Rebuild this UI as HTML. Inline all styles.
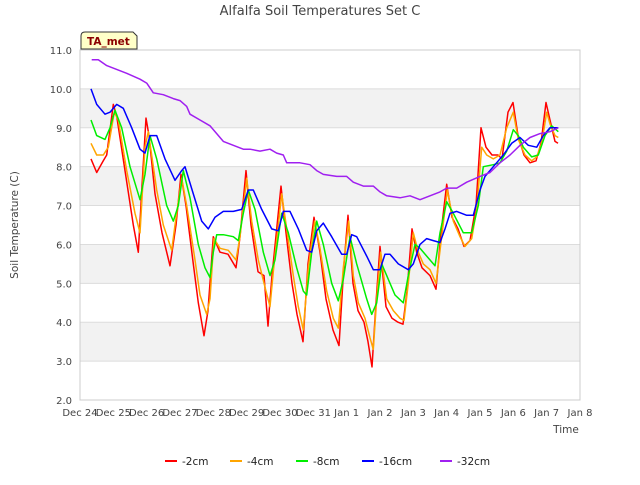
<!DOCTYPE html>
<html><head><meta charset="utf-8"><style>
body{margin:0;background:#fff;font-family:"Liberation Sans",sans-serif}
svg text{font-family:"DejaVu Sans","Liberation Sans",sans-serif}
</style></head><body>
<svg id="c" width="640" height="480" xmlns="http://www.w3.org/2000/svg">
<rect width="640" height="480" fill="#fff"/>
<g id="bands"></g><g id="grid"></g><g id="axes"></g><g id="series"></g>
<text x="320" y="15" text-anchor="middle" font-size="13" fill="#444">Alfalfa Soil Temperatures Set C</text>
<text x="18" y="225" text-anchor="middle" font-size="10.5" fill="#444" transform="rotate(-90 18 225)">Soil Temperature (C)</text>
<text x="566" y="433" text-anchor="middle" font-size="10.5" fill="#444">Time</text>
<g>
<path d="M81 49 L81 36 Q81 32 85 32 L133 32 L137 36 L137 49 Z" fill="#ffffc8" stroke="#333" stroke-width="1"/>
<text x="87" y="45" font-size="10.5" font-weight="bold" fill="#8b0000">TA_met</text></g>
<g id="legend"></g>
</svg>
<script>
const yTicks=[2,3,4,5,6,7,8,9,10,11];
const xTickLabels=["Dec 24","Dec 25","Dec 26","Dec 27","Dec 28","Dec 29","Dec 30","Dec 31","Jan 1","Jan 2","Jan 3","Jan 4","Jan 5","Jan 6","Jan 7","Jan 8"];
const seriesNames=["-2cm","-4cm","-8cm","-16cm","-32cm"];
const seriesColors=["#ff0000","#ffa500","#00ee00","#0000ff","#a020f0"];
const s2=[[0.33,8.2],[0.5,7.85],[0.7,8.15],[0.8,8.3],[1.0,9.6],[1.1,9.3],[1.35,7.9],[1.6,6.5],[1.75,5.8],[1.86,7.5],[1.98,9.25],[2.07,8.8],[2.25,7.3],[2.46,6.3],[2.7,5.45],[2.88,6.5],[3.03,7.8],[3.18,7.0],[3.4,5.5],[3.55,4.5],[3.72,3.65],[3.84,4.3],[4.0,6.2],[4.2,5.8],[4.44,5.75],[4.68,5.4],[4.8,6.2],[4.98,7.9],[5.13,6.5],[5.34,5.3],[5.52,5.2],[5.64,3.9],[5.76,5.2],[6.03,7.5],[6.18,6.3],[6.36,5.0],[6.51,4.2],[6.69,3.5],[6.84,5.5],[7.02,6.7],[7.2,5.8],[7.38,4.6],[7.59,3.8],[7.77,3.4],[7.92,5.5],[8.04,6.75],[8.19,5.0],[8.34,4.3],[8.52,4.0],[8.64,3.5],[8.76,2.85],[8.88,4.5],[9.0,5.95],[9.18,4.4],[9.36,4.1],[9.54,4.0],[9.69,3.95],[9.81,4.8],[9.96,6.4],[10.1,5.8],[10.26,5.4],[10.5,5.2],[10.68,4.85],[10.83,6.3],[11.0,7.55],[11.16,6.7],[11.34,6.4],[11.52,5.95],[11.7,6.1],[11.88,7.0],[12.03,9.0],[12.18,8.5],[12.36,8.3],[12.54,8.3],[12.66,8.2],[12.84,9.4],[12.99,9.65],[13.14,8.8],[13.32,8.3],[13.5,8.1],[13.68,8.15],[13.83,8.6],[13.98,9.65],[14.1,9.2],[14.25,8.65],[14.34,8.6]];
const s4=[[0.33,8.6],[0.5,8.3],[0.7,8.3],[0.85,8.5],[1.03,9.4],[1.15,9.2],[1.4,7.9],[1.65,6.8],[1.8,6.3],[1.95,8.5],[2.05,8.9],[2.3,7.4],[2.5,6.5],[2.75,5.85],[2.85,6.5],[3.05,7.7],[3.2,7.0],[3.45,5.6],[3.6,4.7],[3.8,4.2],[3.9,4.6],[4.02,6.15],[4.2,5.9],[4.45,5.85],[4.68,5.6],[4.8,6.2],[5.0,7.7],[5.15,6.6],[5.35,5.6],[5.55,4.9],[5.7,4.4],[5.8,5.3],[6.05,7.3],[6.2,6.4],[6.4,5.2],[6.55,4.4],[6.7,3.8],[6.85,5.4],[7.04,6.6],[7.2,5.9],[7.4,4.8],[7.6,4.1],[7.75,3.85],[7.9,5.4],[8.06,6.6],[8.2,5.2],[8.35,4.5],[8.55,4.1],[8.7,3.6],[8.8,3.3],[8.9,4.6],[9.02,5.8],[9.2,4.6],[9.4,4.3],[9.6,4.1],[9.72,4.05],[9.85,5.0],[10.0,6.3],[10.15,5.8],[10.3,5.5],[10.5,5.35],[10.68,5.0],[10.85,6.2],[11.02,7.4],[11.2,6.6],[11.4,6.2],[11.55,5.95],[11.75,6.15],[11.9,6.9],[12.05,8.5],[12.2,8.3],[12.4,8.2],[12.6,8.3],[12.8,9.0],[13.0,9.4],[13.15,8.7],[13.35,8.3],[13.55,8.15],[13.7,8.25],[13.85,8.6],[14.0,9.4],[14.1,9.1],[14.25,8.8],[14.35,8.75]];
const s8=[[0.33,9.2],[0.5,8.8],[0.75,8.7],[0.9,9.0],[1.05,9.45],[1.25,9.0],[1.5,8.0],[1.8,7.15],[1.95,7.8],[2.1,8.8],[2.3,8.2],[2.6,7.0],[2.8,6.6],[2.95,7.0],[3.1,7.9],[3.3,7.2],[3.55,6.0],[3.75,5.4],[3.9,5.15],[4.0,5.8],[4.1,6.25],[4.3,6.25],[4.6,6.2],[4.75,6.1],[4.9,6.8],[5.05,7.4],[5.25,6.9],[5.5,5.8],[5.7,5.2],[5.85,5.6],[6.05,6.8],[6.25,6.3],[6.5,5.4],[6.7,4.8],[6.8,4.7],[6.95,5.8],[7.1,6.6],[7.3,6.0],[7.55,5.0],[7.75,4.55],[7.9,5.1],[8.1,6.2],[8.3,5.5],[8.6,4.6],[8.75,4.2],[8.9,4.5],[9.05,5.5],[9.2,5.2],[9.45,4.7],[9.7,4.5],[9.85,5.2],[10.05,6.0],[10.2,5.9],[10.4,5.7],[10.65,5.45],[10.8,6.3],[11.0,7.1],[11.2,6.8],[11.5,6.3],[11.75,6.3],[11.95,7.0],[12.1,8.0],[12.4,8.05],[12.6,8.1],[12.8,8.4],[13.0,8.95],[13.15,8.8],[13.3,8.5],[13.55,8.25],[13.75,8.3],[13.95,8.8],[14.15,9.05],[14.35,8.9]];
const s16=[[0.33,10.0],[0.5,9.6],[0.75,9.35],[0.9,9.4],[1.1,9.6],[1.3,9.5],[1.55,9.0],[1.8,8.45],[1.95,8.35],[2.1,8.8],[2.3,8.8],[2.55,8.2],[2.85,7.65],[3.05,7.9],[3.15,8.0],[3.4,7.3],[3.65,6.6],[3.85,6.4],[4.05,6.7],[4.3,6.85],[4.6,6.85],[4.85,6.9],[5.05,7.4],[5.2,7.4],[5.45,6.9],[5.75,6.4],[5.95,6.35],[6.1,6.85],[6.3,6.85],[6.55,6.4],[6.8,5.85],[6.95,5.8],[7.1,6.35],[7.3,6.55],[7.55,6.2],[7.85,5.75],[8.0,5.75],[8.15,6.25],[8.3,6.2],[8.6,5.7],[8.8,5.35],[9.0,5.35],[9.15,5.75],[9.3,5.75],[9.55,5.5],[9.85,5.35],[10.0,5.5],[10.2,6.0],[10.4,6.15],[10.6,6.1],[10.8,6.05],[10.95,6.4],[11.1,6.8],[11.3,6.85],[11.6,6.75],[11.8,6.75],[12.0,7.4],[12.15,7.75],[12.45,8.05],[12.7,8.3],[12.95,8.6],[13.2,8.75],[13.45,8.55],[13.7,8.5],[13.9,8.8],[14.1,9.0],[14.35,9.0]];
const s32=[[0.35,10.75],[0.55,10.75],[0.8,10.6],[1.1,10.5],[1.4,10.4],[1.8,10.25],[2.0,10.15],[2.2,9.9],[2.5,9.85],[2.8,9.75],[3.0,9.7],[3.2,9.55],[3.3,9.35],[3.6,9.2],[3.9,9.05],[4.1,8.85],[4.3,8.65],[4.6,8.55],[4.9,8.45],[5.1,8.45],[5.4,8.4],[5.7,8.45],[5.9,8.35],[6.1,8.3],[6.2,8.1],[6.6,8.1],[6.9,8.05],[7.1,7.9],[7.3,7.8],[7.7,7.75],[8.0,7.75],[8.2,7.6],[8.5,7.5],[8.8,7.5],[9.0,7.35],[9.2,7.25],[9.6,7.2],[9.9,7.25],[10.2,7.15],[10.5,7.25],[10.8,7.35],[11.0,7.45],[11.3,7.45],[11.6,7.6],[12.0,7.75],[12.3,7.85],[12.6,8.1],[12.9,8.3],[13.2,8.55],[13.5,8.75],[13.8,8.85],[14.1,8.9],[14.35,9.0]];
const allSeries=[s2,s4,s8,s16,s32];
const X0=80,X1=580,Y0=400,Y1=50,D0=0,D1=15,V0=2,V1=11;
const xs=d=>X0+(d-D0)/(D1-D0)*(X1-X0);
const ys=v=>Y0-(v-V0)/(V1-V0)*(Y0-Y1);
const NS="http://www.w3.org/2000/svg";
function mk(t,p,a){const e=document.createElementNS(NS,t);for(const k in a)e.setAttribute(k,a[k]);p.appendChild(e);return e;}
const bands=document.getElementById('bands'),grid=document.getElementById('grid'),axes=document.getElementById('axes'),ser=document.getElementById('series'),leg=document.getElementById('legend');
for(let i=0;i<yTicks.length-1;i++){if(yTicks[i]%2===1){const r=mk('rect',bands,{x:X0,y:ys(yTicks[i+1]),width:X1-X0,height:ys(yTicks[i])-ys(yTicks[i+1]),fill:'#f2f2f2'});

}}
yTicks.forEach(v=>{const l=mk('line',grid,{x1:X0,x2:X1,y1:ys(v),y2:ys(v),stroke:'#dcdcdc','stroke-width':1});


const t=mk('text',axes,{x:X0-8,y:ys(v)+4,'text-anchor':'end','font-size':10,fill:'#444'});t.textContent=v.toFixed(1);

});
const fr=mk('rect',axes,{x:X0,y:Y1,width:X1-X0,height:Y0-Y1,fill:'none',stroke:'#ccc'});


xTickLabels.forEach((s,i)=>{const t=mk('text',axes,{x:xs(i),y:Y0+16,'text-anchor':'middle','font-size':10,fill:'#444'});t.textContent=s;

});
allSeries.forEach((s,i)=>{const p=mk('polyline',ser,{points:s.map(q=>xs(q[0]).toFixed(1)+','+ys(q[1]).toFixed(1)).join(' '),fill:'none',stroke:seriesColors[i],'stroke-width':1.5,'stroke-linejoin':'round'});

});
const lx=[165,230,296,362,440];
seriesNames.forEach((n,i)=>{const g=mk('g',leg,{});


mk('line',g,{x1:lx[i],x2:lx[i]+12,y1:461,y2:461,stroke:seriesColors[i],'stroke-width':2});
const t=mk('text',g,{x:lx[i]+17,y:465,'font-size':10.5,fill:'#222'});t.textContent=n;});
</script>
</body></html>
